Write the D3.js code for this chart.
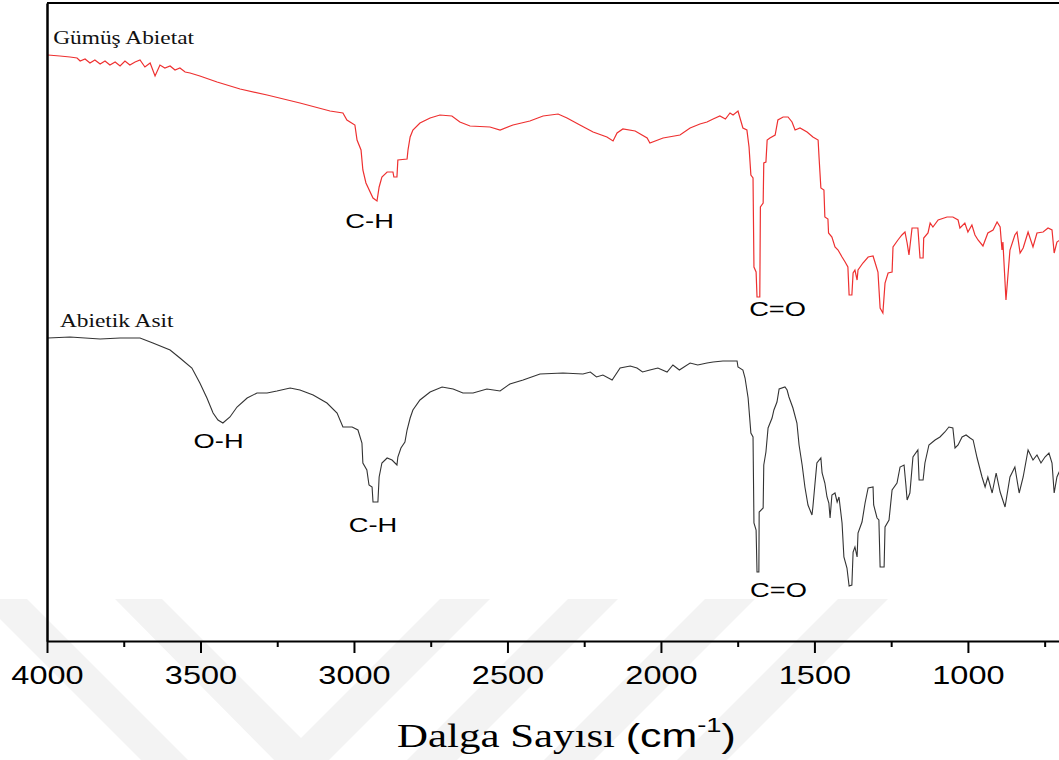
<!DOCTYPE html>
<html>
<head>
<meta charset="utf-8">
<script src="https://cdn.jsdelivr.net/npm/d3@7"></script>
<style>
  html, body { margin: 0; padding: 0; background: #ffffff; }
  svg { display: block; }
</style>
</head>
<body>
<svg id="chart" width="1059" height="760"></svg>
<script>
// ---------------- DATA ----------------
// Gümüş Abietat (red) — wavenumber (cm-1) and signal (arbitrary units)
const wnGA = [3997,3958,3925,3902,3892,3876,3860,3844,3827,3811,3795,3778,3762,3746,3730,3713,3697,3681,3664,3648,3632,3616,3599,3583,3567,3550,3534,3502,3446,3371,3283,3176,3078,3036,3023,2997,2990,2977,2971,2961,2938,2925,2918,2909,2892,2873,2870,2860,2857,2827,2824,2817,2808,2785,2752,2720,2681,2655,2622,2557,2524,2482,2427,2384,2335,2306,2264,2221,2176,2156,2143,2124,2084,2045,2036,1993,1938,1905,1873,1850,1830,1808,1790,1775,1765,1749,1733,1720,1713,1707,1700,1697,1690,1687,1678,1676,1667,1665,1658,1654,1645,1628,1619,1602,1586,1573,1563,1547,1524,1505,1488,1485,1479,1469,1466,1456,1454,1443,1433,1423,1410,1400,1391,1387,1378,1374,1368,1361,1358,1342,1325,1309,1303,1293,1286,1277,1270,1260,1247,1244,1228,1215,1205,1198,1192,1182,1163,1156,1146,1144,1130,1123,1114,1097,1068,1049,1032,1026,1010,1000,987,977,967,951,935,918,905,895,889,886,876,863,847,840,830,820,804,788,775,755,739,726,719,710,700];
const valGA = [586,585,584,583,580,582,578,581,577,580,576,579,575,580,576,579,581,574,578,565,576,573,575,571,573,569,568,565,559,552,546,538,530,528,521,516,501,491,471,458,443,440,454,464,469,469,464,464,481,482,491,504,511,518,523,526,525,519,515,514,511,516,520,525,527,523,516,509,504,500,508,512,510,503,498,503,506,513,517,519,522,525,522,528,526,530,513,511,494,466,463,374,369,344,344,434,438,478,479,501,503,506,521,524,524,519,511,513,509,504,501,484,453,451,424,422,408,404,394,391,384,379,374,346,346,368,371,361,371,378,384,385,379,369,333,328,358,368,369,394,401,406,409,398,386,413,413,383,383,403,408,418,414,421,424,424,421,413,418,409,416,406,401,395,408,411,419,414,391,399,341,391,406,409,388,393,409,394,408,409,413,411,388,399,401];

// Abietik Asit (black)
const wnAA = [3997,3925,3827,3762,3697,3655,3599,3567,3528,3502,3479,3459,3443,3427,3404,3381,3348,3316,3283,3251,3208,3176,3133,3088,3055,3036,3006,2987,2974,2971,2958,2951,2941,2938,2922,2918,2909,2892,2876,2860,2857,2847,2834,2827,2817,2808,2785,2752,2713,2677,2645,2612,2567,2524,2492,2449,2394,2319,2254,2230,2210,2189,2159,2133,2100,2078,2060,2036,2010,1980,1961,1940,1905,1880,1850,1830,1798,1752,1749,1733,1726,1716,1707,1700,1697,1690,1687,1681,1680,1667,1665,1658,1651,1638,1632,1622,1615,1596,1589,1583,1570,1557,1550,1540,1531,1521,1508,1505,1498,1492,1479,1475,1466,1459,1453,1449,1443,1433,1426,1420,1410,1404,1394,1387,1378,1374,1368,1361,1358,1345,1335,1325,1309,1307,1296,1290,1286,1273,1270,1257,1247,1231,1221,1208,1202,1198,1189,1179,1163,1159,1146,1140,1127,1107,1091,1075,1062,1049,1042,1032,1019,1006,993,983,970,954,944,935,921,908,895,879,863,847,833,820,804,788,775,762,749,736,726,719,710,700];
const valAA = [303,304,302,303,303,298,291,283,273,258,243,228,221,218,224,234,243,248,248,250,253,251,246,238,228,214,214,211,198,178,171,156,154,139,139,164,178,183,181,176,184,193,199,211,223,231,241,249,254,252,248,248,252,250,257,261,267,268,267,269,264,266,261,273,275,273,269,271,273,269,276,271,278,276,278,279,280,280,274,271,263,243,208,204,118,111,69,69,129,133,176,189,213,223,231,239,252,254,251,244,233,218,196,176,154,136,126,134,158,178,183,168,158,144,138,123,146,148,139,144,118,84,73,55,56,89,94,84,108,119,138,153,154,136,123,121,74,74,114,121,151,158,174,176,156,141,148,184,191,161,161,178,196,201,204,209,214,213,193,196,204,206,203,201,183,164,154,164,148,168,149,134,164,174,148,164,191,181,186,178,184,188,178,148,164,171];

const seriesNames = ["Gümüş Abietat", "Abietik Asit"];
const seriesLabelPos = [[3980, 597], [3958, 314]];   // [wavenumber, signal] of name labels

const majorTicks = [4000, 3500, 3000, 2500, 2000, 1500, 1000];
const minorTicks = [3750, 3250, 2750, 2250, 1750, 1250, 750];

const peakLabels = ["C-H", "C=O", "O-H", "C-H", "C=O"];
const peakWn     = [2949, 1620, 3441, 2938, 1617];
const peakVal    = [413, 325, 193, 109, 44];

// ---------------- LAYOUT ----------------
const svg = d3.select("#chart");
const pL = 47, pR = 1060, pT = 3, pB = 641;
const SX = 1.3; // horizontal text stretch of the original figure

const x = d3.scaleLinear().domain([4000, 700]).range([pL, pR]);
const y = d3.scaleLinear().domain([0, 638]).range([pB, pT]);

// watermark (faint background decoration)
const wm = svg.append("g").attr("fill", "#f3f3f3");
const wmTop = 599;
wm.append("polygon").attr("points", [[-20,wmTop],[27,wmTop],[188,760],[141,760]].join(" "));
wm.append("polygon").attr("points", [[115,wmTop],[162,wmTop],[301,738],[440,wmTop],[490,wmTop],[320,769],[283,769]].join(" "));
[[568,618],[705,755],[838,888]].forEach(([a,b]) => {
  wm.append("polygon").attr("points", [[a,wmTop],[b,wmTop],[b-161,760],[a-161,760]].join(" "));
});

svg.append("clipPath").attr("id", "plotclip")
  .append("rect").attr("x", pL).attr("y", pT).attr("width", pR - pL).attr("height", pB - pT);

const line = d3.line().x(d => x(d[0])).y(d => y(d[1])).curve(d3.curveLinear);

const gPlot = svg.append("g").attr("clip-path", "url(#plotclip)");
gPlot.append("path")
  .datum(d3.zip(wnGA, valGA))
  .attr("d", line).attr("fill", "none")
  .attr("stroke", "#ee3030").attr("stroke-width", 1.2).attr("stroke-linejoin", "miter");
gPlot.append("path")
  .datum(d3.zip(wnAA, valAA))
  .attr("d", line).attr("fill", "none")
  .attr("stroke", "#333333").attr("stroke-width", 1.1).attr("stroke-linejoin", "miter");

// axes
const xAxisMajor = d3.axisBottom(x).tickValues(majorTicks).tickSize(12).tickSizeOuter(0).tickFormat(d3.format("d"));
const gx = svg.append("g").attr("transform", `translate(0,${pB})`).call(xAxisMajor);
gx.select(".domain").attr("stroke", "#000").attr("stroke-width", 2);
gx.selectAll(".tick line").attr("stroke", "#000").attr("stroke-width", 2);
gx.selectAll(".tick text")
  .attr("y", 43).attr("dy", 0)
  .attr("transform", `scale(${SX},1)`)
  .attr("fill", "#000")
  .style("font-family", "'Liberation Sans', Arial, sans-serif")
  .style("font-size", "25px");

const xAxisMinor = d3.axisBottom(x).tickValues(minorTicks).tickSize(6).tickSizeOuter(0).tickFormat("");
const gxm = svg.append("g").attr("transform", `translate(0,${pB})`).call(xAxisMinor);
gxm.select(".domain").remove();
gxm.selectAll(".tick line").attr("stroke", "#000").attr("stroke-width", 2);

const yAxis = d3.axisLeft(y).tickValues([]).tickSizeOuter(0);
const gy = svg.append("g").attr("transform", `translate(${pL},0)`).call(yAxis);
gy.select(".domain").attr("stroke", "#000").attr("stroke-width", 2.5);

// top frame line
svg.append("line")
  .attr("x1", x(4000)).attr("x2", x(700)).attr("y1", y(638)).attr("y2", y(638))
  .attr("stroke", "#000").attr("stroke-width", 2);

// series name labels
seriesNames.forEach((name, i) => {
  svg.append("text")
    .attr("transform", `translate(${x(seriesLabelPos[i][0])},${y(seriesLabelPos[i][1])}) scale(${SX},1)`)
    .style("font-family", "'Liberation Serif', 'Times New Roman', serif")
    .style("font-size", "18px")
    .attr("fill", "#111")
    .text(name);
});

// peak labels
peakLabels.forEach((lab, i) => {
  svg.append("text")
    .attr("transform", `translate(${x(peakWn[i])},${y(peakVal[i])}) scale(${SX},1)`)
    .attr("text-anchor", "middle")
    .style("font-family", "'Liberation Sans', Arial, sans-serif")
    .style("font-size", "21px")
    .attr("fill", "#000")
    .text(lab);
});

// x axis title
const title = svg.append("text")
  .attr("transform", `translate(397,747) scale(${SX},1)`)
  .attr("fill", "#000");
title.append("tspan")
  .style("font-family", "'Liberation Serif', 'Times New Roman', serif")
  .style("font-size", "33px")
  .text("Dalga Sayısı ");
title.append("tspan")
  .style("font-family", "'Liberation Sans', Arial, sans-serif")
  .style("font-size", "33px")
  .text("(cm");
title.append("tspan")
  .style("font-family", "'Liberation Sans', Arial, sans-serif")
  .style("font-size", "21px")
  .attr("dy", -15)
  .text("-1");
title.append("tspan")
  .style("font-family", "'Liberation Sans', Arial, sans-serif")
  .style("font-size", "33px")
  .attr("dy", 15)
  .text(")");
</script>
</body>
</html>
